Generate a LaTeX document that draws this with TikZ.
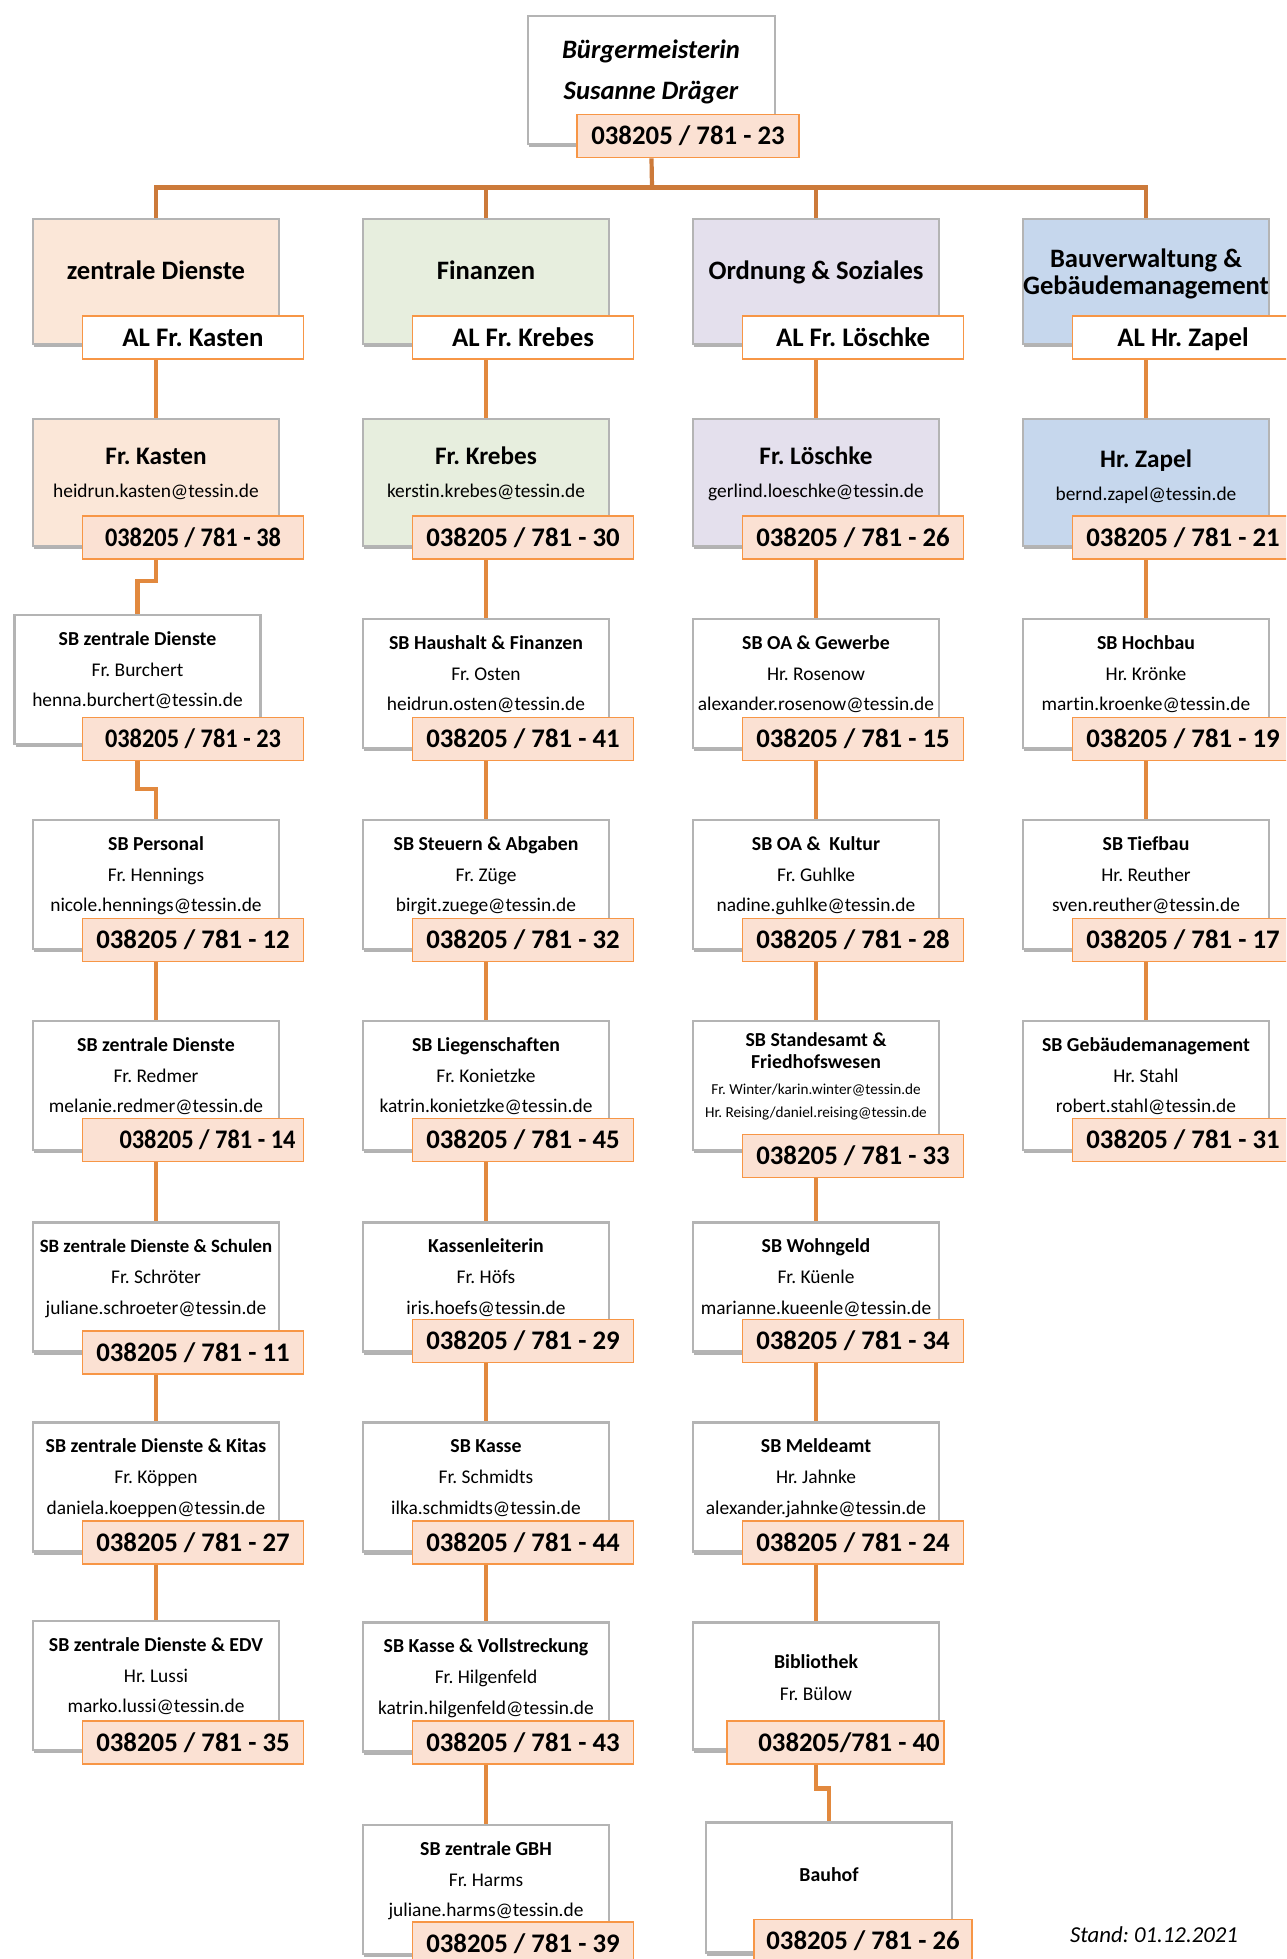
\documentclass[tikz,border=0pt]{standalone}
\usepackage{fontspec}
\setmainfont{Carlito}[Ligatures=NoCommon]
\frenchspacing
\usetikzlibrary{shadows,backgrounds,calc}
\definecolor{conn}{RGB}{226,137,62}
\definecolor{connTop}{RGB}{204,122,58}
\definecolor{phBorder}{RGB}{247,150,70}
\definecolor{phFill}{RGB}{251,225,211}
\definecolor{zdFill}{RGB}{251,231,216}
\definecolor{fiFill}{RGB}{231,238,222}
\definecolor{osFill}{RGB}{228,224,237}
\definecolor{bvFill}{RGB}{198,215,237}
\definecolor{boxLine}{RGB}{180,180,180}
\tikzset{
  box/.style={draw=boxLine, line width=1.3pt, fill=white, minimum width=123pt, inner sep=0pt,
    drop shadow={shadow xshift=0.6pt, shadow yshift=-1.6pt, opacity=0.3, fill=black}},
  ph/.style={draw=phBorder, line width=0.8pt, fill=phFill, minimum width=110.5pt, minimum height=21.5pt,
    inner sep=0pt, text height=8.6pt, text depth=0pt, font=\fontsize{13.4}{16}\selectfont\bfseries},
  al/.style={ph, fill=white},
  big/.style={font=\fontsize{13.3}{16}\selectfont\bfseries, inner sep=0pt, text height=8.6pt, text depth=0pt},
  pname/.style={font=\fontsize{12.6}{15}\selectfont\bfseries, inner sep=0pt, text height=8.1pt, text depth=0pt},
  sbt/.style={font=\fontsize{9.9}{12}\selectfont\bfseries, inner sep=0pt, text height=6.4pt, text depth=0pt},
  sbn/.style={font=\fontsize{9.7}{12}\selectfont, inner sep=0pt, text height=6.2pt, text depth=0pt},
  tinytxt/.style={font=\fontsize{7.6}{9}\selectfont, inner sep=0pt, text height=4.9pt, text depth=0pt},
  cn/.style={draw=conn, line width=2.2pt},
  cntop/.style={draw=connTop, line width=2.1pt},
}
\newcommand{\narrowtxt}[1]{\scalebox{0.91}[1]{#1}}
\newcommand{\SBbox}[9]{%
  \node[box, minimum height=64.5pt] (#1) at (#2,{#3+64.5}) {};
  \node[sbt] (#1-t) at (#2,{#3+24}) {#6};
  \node[sbn] (#1-n) at (#2,{#3+55}) {#7};
  \node[sbn] (#1-e) at (#2,{#3+85.5}) {#8};
  \node[ph] (#1-ph) at (#4,#5) {#9};
}
\begin{document}
\begin{tikzpicture}[x=0.5pt,y=-0.5pt]
\useasboundingbox (0,0) rectangle (1286,1959);
\clip (0,0) rectangle (1286,1959);

% top
\node[box, minimum width=123.5pt, minimum height=64pt] (bm) at (651.5,80) {};
\node[big, font=\fontsize{13.3}{16}\selectfont\bfseries\itshape] (bm-t) at (651,50) {Bürgermeisterin};
\node[big, font=\fontsize{13.3}{16}\selectfont\bfseries\itshape] (bm-n) at (651,91) {Susanne Dräger};
\node[ph, minimum width=111pt] (bm-ph) at (688,136) {038205 / 781 - 23};

% departments
\node[box, fill=zdFill, minimum height=62.5pt] (dep1) at (156,281.5) {};
\node[big] (dep1-t) at (156,271) {zentrale Dienste};
\node[al] (dep1-al) at (193,337.5) {AL Fr. Kasten};

\node[box, fill=fiFill, minimum height=62.5pt] (dep2) at (486,281.5) {};
\node[big] (dep2-t) at (486,271) {Finanzen};
\node[al] (dep2-al) at (523,337.5) {AL Fr. Krebes};

\node[box, fill=osFill, minimum height=62.5pt] (dep3) at (816,281.5) {};
\node[big] (dep3-t) at (816,271) {Ordnung \& Soziales};
\node[al] (dep3-al) at (853,337.5) {AL Fr. Löschke};

\node[box, fill=bvFill, minimum height=62.5pt] (dep4) at (1146,281.5) {};
\node[big] (dep4-t) at (1146,259) {Bauverwaltung \&};
\node[big] (dep4-u) at (1146,286) {Gebäudemanagement};
\node[al] (dep4-al) at (1183,337.5) {AL Hr. Zapel};

% heads
\node[box, fill=zdFill, minimum height=63.5pt] (per1) at (156,482.5) {};
\node[pname] (per1-n) at (156,456) {Fr. Kasten};
\node[sbn] (per1-e) at (156,491) {heidrun.kasten@tessin.de};
\node[ph] (per1-ph) at (193,537.5) {\narrowtxt{038205 / 781 - 38}};

\node[box, fill=fiFill, minimum height=63.5pt] (per2) at (486,482.5) {};
\node[pname] (per2-n) at (486,456) {Fr. Krebes};
\node[sbn] (per2-e) at (486,491) {kerstin.krebes@tessin.de};
\node[ph] (per2-ph) at (523,537.5) {038205 / 781 - 30};

\node[box, fill=osFill, minimum height=63.5pt] (per3) at (816,482.5) {};
\node[pname] (per3-n) at (816,456) {Fr. Löschke};
\node[sbn] (per3-e) at (816,491) {gerlind.loeschke@tessin.de};
\node[ph] (per3-ph) at (853,537.5) {038205 / 781 - 26};

\node[box, fill=bvFill, minimum height=63.5pt] (per4) at (1146,482.5) {};
\node[pname] (per4-n) at (1146,459) {Hr. Zapel};
\node[sbn] (per4-e) at (1146,494) {bernd.zapel@tessin.de};
\node[ph] (per4-ph) at (1183,537.5) {038205 / 781 - 21};

% column 1
\SBbox{s1a}{137.5}{615}{193}{739}{SB zentrale Dienste}{Fr. Burchert}{henna.burchert@tessin.de}{\narrowtxt{038205 / 781 - 23}}
\SBbox{s1b}{156}{820}{193}{940}{SB Personal}{Fr. Hennings}{nicole.hennings@tessin.de}{038205 / 781 - 12}
\SBbox{s1c}{156}{1021}{193}{1140}{SB zentrale Dienste}{Fr. Redmer}{melanie.redmer@tessin.de}{\hspace*{14.5pt}\narrowtxt{038205 / 781 - 14}}
\SBbox{s1d}{156}{1222.5}{193}{1352.5}{{\fontsize{9.4}{11}\selectfont SB zentrale Dienste \& Schulen}}{Fr. Schröter}{juliane.schroeter@tessin.de}{038205 / 781 - 11}
\SBbox{s1e}{156}{1422.5}{193}{1542.5}{SB zentrale Dienste \& Kitas}{Fr. Köppen}{daniela.koeppen@tessin.de}{038205 / 781 - 27}
\SBbox{s1f}{156}{1621}{193}{1742.5}{SB zentrale Dienste \& EDV}{Hr. Lussi}{marko.lussi@tessin.de}{038205 / 781 - 35}

% column 2
\SBbox{s2a}{486}{619}{523}{739}{SB Haushalt \& Finanzen}{Fr. Osten}{heidrun.osten@tessin.de}{038205 / 781 - 41}
\SBbox{s2b}{486}{820}{523}{940}{SB Steuern \& Abgaben}{Fr. Züge}{birgit.zuege@tessin.de}{038205 / 781 - 32}
\SBbox{s2c}{486}{1021}{523}{1140}{SB Liegenschaften}{Fr. Konietzke}{katrin.konietzke@tessin.de}{038205 / 781 - 45}
\SBbox{s2d}{486}{1222.5}{523}{1341}{Kassenleiterin}{Fr. Höfs}{iris.hoefs@tessin.de}{038205 / 781 - 29}
\SBbox{s2e}{486}{1422.5}{523}{1542.5}{SB Kasse}{Fr. Schmidts}{ilka.schmidts@tessin.de}{038205 / 781 - 44}
\SBbox{s2f}{486}{1622.5}{523}{1742.5}{SB Kasse \& Vollstreckung}{Fr. Hilgenfeld}{katrin.hilgenfeld@tessin.de}{038205 / 781 - 43}
\SBbox{s2g}{486}{1825}{523}{1943.5}{SB zentrale GBH}{Fr. Harms}{juliane.harms@tessin.de}{038205 / 781 - 39}

% column 3
\SBbox{s3a}{816}{619}{853}{739}{SB OA \& Gewerbe}{Hr. Rosenow}{alexander.rosenow@tessin.de}{038205 / 781 - 15}
\SBbox{s3b}{816}{820}{853}{940}{SB OA \&\ \ Kultur}{Fr. Guhlke}{nadine.guhlke@tessin.de}{038205 / 781 - 28}
\node[box, minimum height=64.5pt] (s3c) at (816,1085.5) {};
\node[sbt] (s3c-t) at (816,1040) {SB Standesamt \&};
\node[sbt] (s3c-u) at (816,1062.5) {Friedhofswesen};
\node[tinytxt] (s3c-n) at (816,1090) {Fr. Winter/karin.winter@tessin.de};
\node[tinytxt] (s3c-m) at (816,1112.5) {Hr. Reising/daniel.reising@tessin.de};
\node[ph] (s3c-ph) at (853,1156) {038205 / 781 - 33};
\SBbox{s3d}{816}{1222.5}{853}{1341}{SB Wohngeld}{Fr. Küenle}{marianne.kueenle@tessin.de}{038205 / 781 - 34}
\SBbox{s3e}{816}{1422.5}{853}{1542.5}{SB Meldeamt}{Hr. Jahnke}{alexander.jahnke@tessin.de}{038205 / 781 - 24}
\node[box, minimum height=63.75pt] (s3f) at (816,1686) {};
\node[sbt] (s3f-t) at (816,1662.5) {Bibliothek};
\node[sbn] (s3f-n) at (816,1694) {Fr. Bülow};
\node[ph, minimum width=108.5pt] (s3f-ph) at (835.5,1742.5) {\hspace*{13.5pt}038205/781 - 40};
\node[box, minimum height=65pt] (s3g) at (829,1887.5) {};
\node[sbt] (s3g-t) at (829,1875) {Bauhof};
\node[ph, minimum width=109pt] (s3g-ph) at (863,1941) {038205 / 781 - 26};

% column 4
\SBbox{s4a}{1146}{619}{1183}{739}{SB Hochbau}{Hr. Krönke}{martin.kroenke@tessin.de}{038205 / 781 - 19}
\SBbox{s4b}{1146}{820}{1183}{940}{SB Tiefbau}{Hr. Reuther}{sven.reuther@tessin.de}{038205 / 781 - 17}
\SBbox{s4c}{1146}{1021}{1183}{1140}{SB Gebäudemanagement}{Hr. Stahl}{robert.stahl@tessin.de}{038205 / 781 - 31}

\node[font=\fontsize{11.4}{13}\selectfont\itshape, inner sep=0pt, text height=7.3pt, text depth=0pt] (stand) at (1154,1935) {Stand: 01.12.2021};

% connectors
\coordinate (bus) at (652,187.5);
\begin{scope}[on background layer]
\draw[cntop] (bm.center |- bm-ph.south) -- (bus);
\draw[cntop] (dep1.north) |- (bus) -| (dep4.north);
\draw[cntop] (dep2.north) -- (dep2.north |- bus);
\draw[cntop] (dep3.north) -- (dep3.north |- bus);
\foreach \k in {1,2,3,4}{
  \draw[cn] (dep\k.center |- dep\k-al.south) -- (per\k.north);
}
\draw[cn] (per1.center |- per1-ph.south) -- ++(0,21) -| (s1a.north);
\draw[cn] (s1a.center |- s1a-ph.south) -- ++(0,27.5) -| (s1b.north);
\draw[cn] (s3f.center |- s3f-ph.south) -- ++(0,23.5) -| (s3g.north);
\foreach \a/\b in {s1b/s1c,s1c/s1d,s1d/s1e,s1e/s1f,
  per2/s2a,s2a/s2b,s2b/s2c,s2c/s2d,s2d/s2e,s2e/s2f,s2f/s2g,
  per3/s3a,s3a/s3b,s3b/s3c,s3c/s3d,s3d/s3e,s3e/s3f,
  per4/s4a,s4a/s4b,s4b/s4c}{
  \draw[cn] (\a.center |- \a-ph.south) -- (\b.north);
}
\end{scope}
\end{tikzpicture}
\end{document}
